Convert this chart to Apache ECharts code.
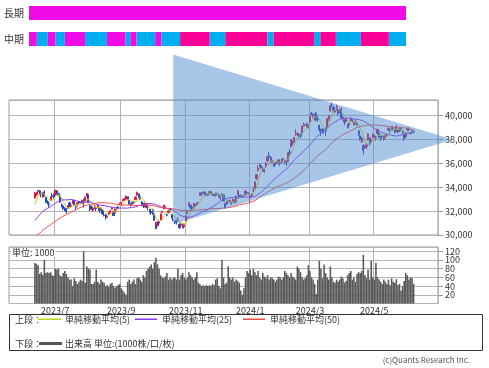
<!DOCTYPE html>
<html><head><meta charset="utf-8">
<script src="https://cdn.jsdelivr.net/npm/echarts@6/dist/echarts.min.js"></script>
<style>html,body{margin:0;padding:0;background:#fff}#c{width:489px;height:368px}</style>
</head><body><div id="c"></div>
<script>
// ---- trading days (category axis) ----
const months = ['2023/6','2023/7','2023/8','2023/9','2023/10','2023/11','2023/12','2024/1','2024/2','2024/3','2024/4','2024/5','2024/6'];
const monthDays = [
  [14,15,16,19,20,21,22,23,26,27,28,29,30],
  [3,4,5,6,7,10,11,12,13,14,18,19,20,21,24,25,26,27,28,31],
  [1,2,3,4,7,8,9,10,14,15,16,17,18,21,22,23,24,25,28,29,30,31],
  [1,4,5,6,7,8,11,12,13,14,15,19,20,21,22,25,26,27,28,29],
  [2,3,4,5,6,10,11,12,13,16,17,18,19,20,23,24,25,26,27,30,31],
  [1,2,6,7,8,9,10,13,14,15,16,17,20,21,22,24,27,28,29,30],
  [1,4,5,6,7,8,11,12,13,14,15,18,19,20,21,22,25,26,27,28,29],
  [4,5,9,10,11,12,15,16,17,18,19,22,23,24,25,26,29,30,31],
  [1,2,5,6,7,8,9,13,14,15,16,19,20,21,22,26,27,28,29],
  [1,4,5,6,7,8,11,12,13,14,15,18,19,21,22,25,26,27,28,29],
  [1,2,3,4,5,8,9,10,11,12,15,16,17,18,19,22,23,24,25,26,30],
  [1,2,7,8,9,10,13,14,15,16,17,20,21,22,23,24,27,28,29,30,31],
  [3,4,5,6,7]
];
// label months shown on the x axis
const labelMonths = ['2023/7','2023/9','2023/11','2024/1','2024/3','2024/5'];

// ---- daily candles [open, close, low, high] ----
const ohlc = [
// 2023/6
[33100,33502,33050,33600],[33400,33485,33260,33580],[33620,33706,33500,33772],[33700,33370,33350,33770],[33500,33388,33150,33600],[33200,33575,33100,33610],[33590,33264,33230,33720],[33130,32781,32700,33180],[32800,32698,32560,32900],[32600,32538,32300,32690],[32870,33193,32850,33250],[33300,33234,33150,33530],[33350,33189,33050,33470],
// 2023/7
[33350,33753,33300,33780],[33700,33422,33380,33760],[33450,33338,33250,33480],[33280,32773,32710,33300],[32520,32388,32300,32640],[32430,32189,32100,32530],[32220,32203,32000,32330],[32200,31943,31790,32220],[32230,32419,32210,32480],[32680,32391,32340,32780],[32450,32493,32380,32690],[32640,32896,32620,32920],[32880,32490,32450,32890],[32310,32304,32130,32460],[32480,32700,32380,32780],[32760,32682,32550,32820],[32670,32668,32570,32790],[32620,32891,32610,32950],[32850,32759,32300,33020],[32790,33172,32770,33200],
// 2023/8
[33200,33476,33180,33488],[33350,32707,32660,33380],[32450,32159,31980,32500],[32350,32192,32080,32460],[32080,32254,31940,32330],[32350,32377,32170,32530],[32240,32204,32000,32330],[32370,32473,32250,32560],[32280,32059,31850,32330],[32080,32238,32010,32320],[32080,31766,31730,32130],[31680,31626,31550,31880],[31690,31450,31280,31700],[31490,31565,31420,31620],[31750,31856,31700,31940],[31880,32010,31860,32080],[32170,32287,32130,32340],[31970,31624,31600,32000],[31850,32169,31850,32210],[32230,32227,32150,32340],[32340,32333,32240,32440],[32600,32619,32500,32710],
// 2023/9
[32700,32710,32540,32790],[32890,32939,32800,33000],[32950,33036,32880,33090],[33010,33241,32950,33320],[33200,32991,32910,33200],[32900,32606,32520,32930],[32620,32467,32400,32700],[32700,32776,32550,32800],[32780,32706,32620,32860],[32960,33168,32930,33240],[33350,33533,33280,33634],[33440,33242,33110,33450],[33210,33023,32930,33290],[32760,32571,32500,32830],[32600,32402,32260,32690],[32420,32678,32300,32700],[32580,32315,32250,32600],[32370,32371,32050,32420],[32150,31872,31850,32160],[31950,31857,31680,32000],
// 2023/10
[32100,31759,31710,32200],[31700,31237,31200,31740],[31000,30526,30487,31070],[30800,31075,30700,31140],[31130,30994,30800,31260],[31270,31746,31250,31800],[31880,31936,31810,32040],[32200,32494,32150,32533],[32300,32315,32200,32400],[31700,31659,31560,31800],[31880,32040,31800,32100],[32200,32042,31980,32260],[31700,31430,31400,31750],[31260,31259,31150,31450],[31140,31019,30900,31190],[31200,31062,30880,31280],[31240,31269,31130,31466],[30900,30601,30550,30950],[30840,30991,30700,31060],[30920,30697,30560,30940],[30700,30858,30538,30950],
// 2023/11
[31200,31601,31150,31650],[31800,31950,31750,32070],[32450,32708,32400,32766],[32500,32271,32170,32520],[32350,32166,32050,32420],[32250,32646,32200,32700],[32400,32568,32370,32640],[32620,32585,32450,32730],[32680,32695,32560,32750],[33300,33519,33280,33540],[33500,33424,33300,33580],[33500,33585,33400,33637],[33600,33388,33350,33650],[33400,33354,33250,33480],[33300,33452,33250,33500],[33550,33625,33500,33700],[33620,33447,33400,33680],[33400,33408,33250,33460],[33450,33321,33250,33500],[33350,33486,33200,33550],
// 2023/12
[33500,33431,33300,33530],[33400,33231,33150,33460],[33100,33231,32900,33270],[33380,33445,33260,33500],[33350,32858,32810,33380],[32650,32307,32200,32700],[32600,32791,32540,32850],[32860,32843,32720,32960],[32800,32926,32650,32960],[32700,32686,32500,32780],[32790,32970,32700,33050],[32900,32758,32640,33000],[32780,33219,32700,33300],[33400,33675,33320,33772],[33350,33141,33050,33390],[33300,33169,33100,33400],[33200,33254,33100,33320],[33300,33305,33200,33400],[33400,33681,33350,33700],[33550,33539,33400,33650],[33500,33464,33350,33570],
// 2024/1
[33200,33288,32690,33400],[33300,33377,33130,33500],[33700,33763,33580,33990],[33900,34441,33880,34500],[34700,35049,34600,35100],[35400,35577,35300,35840],[35800,35901,35650,36000],[35800,35619,35500,35850],[35500,35477,35300,35700],[35300,35466,35200,35550],[35700,35963,35600,36100],[36200,36546,36100,36600],[36650,36517,36300,36984],[36500,36226,36100,36600],[36100,36236,36000,36400],[35900,35751,35700,36050],[35900,36026,35800,36100],[36100,36065,35950,36200],[36000,36286,35900,36350],
// 2024/2
[36100,36011,35800,36200],[36200,36158,35980,36400],[36300,36354,36100,36450],[36100,36160,35900,36300],[36200,36119,35800,36300],[36150,36863,36100,36900],[36950,36897,36700,37200],[37400,37963,37300,38000],[37800,37703,37500,37900],[37800,38157,37700,38200],[38400,38487,38300,38865],[38450,38470,38300,38600],[38400,38363,38100,38500],[38400,38262,38100,38500],[38500,39098,38400,39156],[39200,39233,39050,39400],[39200,39239,39100,39300],[39300,39208,39000,39400],[39000,39166,38900,39300],
// 2024/3
[39500,39910,39400,39990],[40200,40109,40000,40314],[40000,40097,39800,40200],[39900,40090,39600,40150],[40200,39598,39500,40300],[39700,39688,39500,39990],[39200,38820,38600,39200],[38800,38797,38300,38900],[38800,38695,38500,38950],[38700,38807,38500,38900],[38900,38707,38300,39000],[39000,39740,38900,39800],[39700,40003,39500,40050],[40400,40815,40300,40900],[40900,40888,40700,41087],[40700,40414,40300,40800],[40300,40398,40200,40500],[40500,40762,40400,40900],[40400,40168,40000,40500],[40300,40369,40200,40600],
// 2024/4
[40500,39803,39700,40700],[39700,39838,39600,40000],[39600,39451,39200,39700],[39500,39773,39400,39800],[39200,38992,38900,39300],[39200,39347,39100,39400],[39600,39773,39500,39850],[39600,39581,39400,39700],[39200,39442,39200,39500],[39500,39523,39300,39600],[39300,39232,39100,39400],[38700,38471,38300,38800],[38300,37961,37900,38400],[37800,38079,37700,38200],[37500,37068,36733,37600],[37300,37438,37200,37500],[37400,37552,37200,37700],[38000,38460,37900,38500],[38100,37628,37500,38100],[37800,37934,37600,38200],[38200,38405,38100,38500],
// 2024/5
[38300,38274,38100,38400],[38100,38236,37900,38300],[38500,38835,38400,38900],[38500,38202,38100,38600],[38200,38073,37900,38300],[38300,38229,38100,38400],[38000,38179,37900,38300],[38200,38356,38100,38400],[38300,38385,38200,38500],[38800,38920,38700,39000],[38800,38787,38600,38900],[38900,39069,38800,39100],[39000,38946,38800,39100],[38800,38617,38500,38900],[38700,39103,38600,39200],[38700,38646,38500,38800],[38700,38900,38600,39000],[38900,38855,38700,39000],[38700,38556,38400,38800],[38400,38054,37900,38400],[38200,38487,38100,38550],
// 2024/6
[38800,38923,38700,39000],[38900,38837,38700,39000],[38500,38490,38400,38600],[38600,38703,38500,38800],[38700,38683,38500,38800]
];

// closes before the first visible day (feed the moving averages)
const priorCloses = [28188,28287,27813,27473,27518,27633,27923,28082,28157,28493,28514,28658,28606,28657,28564,28593,28620,28416,28457,28856,
  29123,29157,28949,29242,29122,29126,29388,29626,29842,30093,30573,30808,31086,31086,30957,30801,30916,31233,31328,30887,
  31148,31524,32217,32506,31913,31641,32265,32434,33018];

// ---- volume (unit: 1000) ----
const volume = [
93,91,88,68,72, 66,100,70, 72,70,72,65,63, 80,78,80,65,62, 70,75,68,60,55, 55,40,58,52,45,50, 55,52,120,48,85,
80,78,45,45,50,78,50, 45,55,50,48,40,42,38, 45,48,40,36,40,42,45,35, 30,25,20,50,55,45,50, 55,45,58,60,55,50,65,60,
75,80,85,90,80,95,105, 90,80,65,60,58,62, 70,55,60,55,58,60,55, 80,55,65,70,60,55,60, 72,65,60,55,60,72,48,
45,40,42,40,42,40,42,40, 45,42,55,58,40,35, 100,60,45,48,85,60, 55,60,50,55,52,48,30, 20,35,60,75,70,78,
65,80,72,65,75,60,55, 70,62,58,65,55,60,58, 55,50,55,62,60,55,60, 75,70,65,60,70,62,58, 55,85,80,72,60,55,58,
65,88,75,60,55,45,22, 55,98,80,58,90,70,60, 55,85,60,50,48,55,50, 55,62,58,48,52,65,70, 75,55,60,50,68,72,70,
75,112,65,58,78,55, 98,60,55,93,60,55,50, 45,55,50,45,55,42,58, 50,48,56,42,45,30,40, 52,70,65,55,60,58,45
];

const maPeriods = [5, 25, 50];
const maNames = ['単純移動平均(5)', '単純移動平均(25)', '単純移動平均(50)'];

// triangle overlay: [trading-day index, price]
const triangle = [[88, 45100], [88, 30900], [266, 38000]];

// trend bars: [startDay, endDay, state]
const longTermSegments = [[0, 242, 'm']];
const midTermSegments = [[0,5,'m'],[5,12,'b'],[12,17,'m'],[17,23,'b'],[23,36,'m'],[36,50,'b'],[50,62,'m'],[62,65,'b'],[65,69,'m'],[69,81,'b'],[81,85,'m'],[85,97,'b'],[97,116,'p'],[116,126,'b'],[126,153,'p'],[153,157,'b'],[157,183,'p'],[183,187,'b'],[187,197,'p'],[197,213,'b'],[213,231,'p'],[231,242,'b']];
const trendRows = ['中期', '長期'];

// ---- build ----
const PAD_BEFORE = 16, PAD_AFTER = 15;
const dates = [];
months.forEach((m, i) => monthDays[i].forEach(d => dates.push(m + '/' + d)));
const pad = n => Array(n).fill('');
const categories = pad(PAD_BEFORE).concat(dates, pad(PAD_AFTER));
const padData = arr => Array(PAD_BEFORE).fill('-').concat(arr, Array(PAD_AFTER).fill('-'));

const closes = ohlc.map(r => r[1]);
const allCloses = priorCloses.concat(closes);
function sma(p) {
  const off = priorCloses.length;
  return closes.map((_, i) => {
    const j = i + off;
    if (j - p + 1 < 0) return '-';
    let s = 0; for (let k = j - p + 1; k <= j; k++) s += allCloses[k];
    return Math.round(s / p);
  });
}

const labelIdx = new Set();
labelMonths.forEach(m => {
  const d = m + '/' + monthDays[months.indexOf(m)][0];
  labelIdx.add(categories.indexOf(d));
});
const showTick = idx => labelIdx.has(idx);

const FONT = '"Noto Sans CJK JP", "Noto Sans", sans-serif';
const MA_COLORS = ['#c4d21e', '#8a3cf0', '#f0504a'];
const SEG_COLORS = { m: '#f00ae6', b: '#00aeef', p: '#fa0096' };
const GRID_LINE = '#b4b4b4';

const chart = echarts.init(document.getElementById('c'), null, { renderer: 'canvas' });

const maSeries = maPeriods.map((p, i) => ({
  type: 'line', name: maNames[i], xAxisIndex: 1, yAxisIndex: 1,
  data: padData(sma(p)), showSymbol: false, symbol: 'none', smooth: false,
  lineStyle: { width: 1, color: MA_COLORS[i] }, z: 3, silent: true
}));

function segRender(params, api) {
  const s = api.value(0), e = api.value(1), row = api.value(2);
  const p0 = api.coord([s, row]), p1 = api.coord([e, row]);
  const st = params.seriesIndex === 0 ? longTermSegments[params.dataIndex][2] : midTermSegments[params.dataIndex][2];
  return { type: 'rect', shape: { x: p0[0], y: p0[1] - 7, width: p1[0] - p0[0], height: 14 }, style: { fill: SEG_COLORS[st] } };
}

const txt = (x, y, text) => ({ type: 'text', z: 51, x, y, style: { text, font: '9px ' + FONT, fill: '#333', verticalAlign: 'middle' } });
const swatch = (x, y, w, h, color) => ({ type: 'rect', z: 52, shape: { x, y, width: w, height: h }, style: { fill: color, stroke: null } });

const option = {
  animation: false,
  backgroundColor: '#fff',
  textStyle: { fontFamily: FONT },
  grid: [
    { left: 29, top: 0, width: 377, height: 52 },
    { left: 9, top: 100, width: 429, height: 135, show: true, borderColor: '#999', borderWidth: 1 },
    { left: 9, top: 247, width: 429, height: 56.5, show: true, borderColor: '#999', borderWidth: 1 }
  ],
  xAxis: [
    { type: 'value', gridIndex: 0, min: 0, max: 242, show: false },
    { type: 'category', gridIndex: 1, data: categories, boundaryGap: true,
      axisLine: { show: false }, axisTick: { show: false }, axisLabel: { show: false },
      splitLine: { show: true, interval: showTick, lineStyle: { color: GRID_LINE, width: 1 } } },
    { type: 'category', gridIndex: 2, data: categories, boundaryGap: true,
      axisLine: { show: false }, axisTick: { show: false },
      axisLabel: { interval: showTick, margin: 3, fontSize: 9, color: '#333', fontFamily: FONT,
        formatter: v => v ? v.split('/').slice(0, 2).join('/') : '' },
      splitLine: { show: true, interval: showTick, lineStyle: { color: GRID_LINE, width: 1 } } }
  ],
  yAxis: [
    { type: 'category', gridIndex: 0, data: trendRows, axisLine: { show: false }, axisTick: { show: false },
      axisLabel: { margin: 5, fontSize: 10, color: '#333', fontFamily: FONT } },
    { type: 'value', gridIndex: 1, position: 'right', min: 30000, max: 41300, interval: 2000,
      axisLine: { show: false }, axisTick: { show: true, length: 5, lineStyle: { color: '#999' } },
      axisLabel: { margin: 7, fontSize: 9, color: '#333', fontFamily: FONT, showMaxLabel: false,
        formatter: v => v % 2000 === 0 ? v.toLocaleString('en-US') : '' },
      splitLine: { show: true, lineStyle: { color: GRID_LINE, width: 1 } } },
    { type: 'value', gridIndex: 2, position: 'right', min: 0, max: 130, interval: 20,
      axisLine: { show: false }, axisTick: { show: true, length: 5, lineStyle: { color: '#999' } },
      axisLabel: { margin: 7, fontSize: 9, color: '#333', fontFamily: FONT, showMinLabel: false, showMaxLabel: false,
        formatter: v => (v > 0 && v % 20 === 0) ? String(v) : '' },
      splitLine: { show: true, lineStyle: { color: GRID_LINE, width: 1 } } }
  ],
  series: [
    { type: 'custom', xAxisIndex: 0, yAxisIndex: 0, renderItem: segRender,
      encode: { x: [0, 1], y: 2 },
      data: longTermSegments.map(s => [s[0], s[1], 1]), silent: true },
    { type: 'custom', xAxisIndex: 0, yAxisIndex: 0, renderItem: segRender,
      encode: { x: [0, 1], y: 2 },
      data: midTermSegments.map(s => [s[0], s[1], 0]), silent: true },
    { type: 'candlestick', xAxisIndex: 1, yAxisIndex: 1, data: padData(ohlc), barWidth: 1.6,
      itemStyle: { color: '#e8123c', borderColor: '#e8123c', color0: '#1f48c0', borderColor0: '#1f48c0', borderWidth: 1 },
      z: 2, silent: true },
    ...maSeries,
    { type: 'custom', xAxisIndex: 1, yAxisIndex: 1, clip: false, z: 20, silent: true,
      data: [[triangle[0][0] + PAD_BEFORE, triangle[0][1]]],
      renderItem: (params, api) => ({
        type: 'polygon',
        shape: { points: triangle.map(([i, v]) => api.coord([i + PAD_BEFORE, v])) },
        style: { fill: 'rgba(74,136,204,0.48)' }
      }) },
    { type: 'bar', xAxisIndex: 2, yAxisIndex: 2, data: padData(volume), barCategoryGap: '0%',
      itemStyle: { color: '#5a5a5a' }, silent: true }
  ],
  graphic: [
    { type: 'text', left: 11, top: 248, z: 50, style: { text: '単位: 1000', font: '9px ' + FONT, fill: '#333', backgroundColor: '#fff', padding: [0, 1, 0, 1] } },
    { type: 'rect', z: 50, shape: { x: 9.5, y: 314.5, width: 473, height: 36 }, style: { fill: '#fff', stroke: '#333', lineWidth: 1 } },
    txt(15, 320, '上段：'),
    swatch(38, 318.5, 23, 1.5, MA_COLORS[0]),
    txt(65, 320, maNames[0]),
    swatch(135, 318.5, 22, 1.5, MA_COLORS[1]),
    txt(162, 320, maNames[1]),
    swatch(243, 318.5, 22, 1.5, MA_COLORS[2]),
    txt(270, 320, maNames[2]),
    txt(15, 344, '下段：'),
    swatch(39, 342, 23, 3, '#555'),
    txt(65, 344, '出来高 単位:(1000株/口/枚)'),
    { type: 'text', z: 51, x: 470, y: 360, style: { text: '(c)Quants Research Inc.', font: '8px ' + FONT, fill: '#555', align: 'right', verticalAlign: 'middle' } }
  ]
};
chart.setOption(option);
</script>
</body></html>
